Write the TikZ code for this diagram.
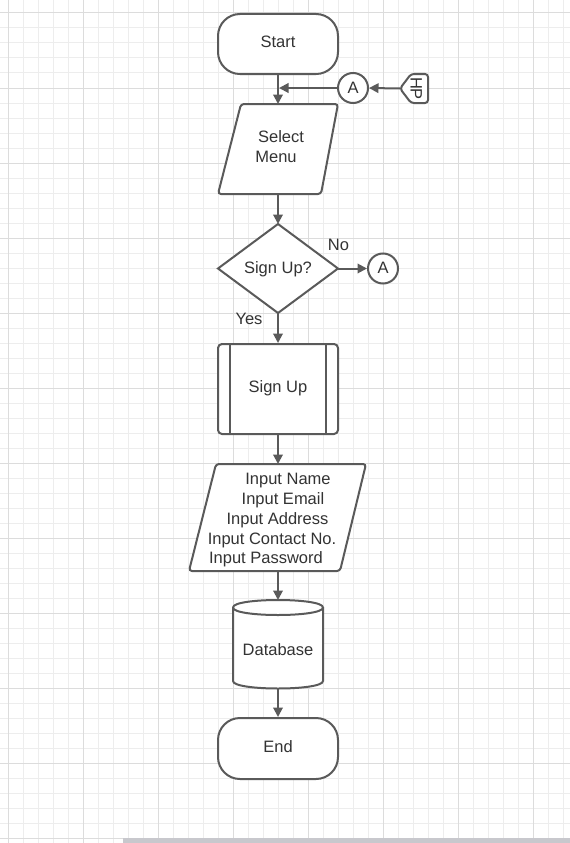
\documentclass[tikz,border=0pt]{standalone}
\usepackage{fontspec}
\setmainfont{Liberation Sans}
\usetikzlibrary{arrows.meta,shapes.geometric}
\definecolor{ln}{HTML}{5A5A5A}
\definecolor{tx}{HTML}{333333}
\definecolor{gmin}{HTML}{EDEDED}
\definecolor{gmaj}{HTML}{DCDCDC}
\definecolor{barc}{HTML}{C8C8CD}
\begin{document}
\begin{tikzpicture}[x=1pt,y=-1pt,
  shp/.style={draw=ln,line width=2pt,fill=white},
  lbl/.style={text=tx,font=\fontsize{16.5}{20}\selectfont,text height=11.8pt,text depth=0pt,inner sep=0pt},
  arr/.style={draw=ln,line width=2pt,-{Triangle[length=9.5pt,width=9.5pt]}}]
\useasboundingbox (0,0) rectangle (570,843);
\fill[white] (0,0) rectangle (570,843);
% grid
\foreach \x in {8,23,...,568} \draw[gmin,line width=1pt] (\x,0) -- (\x,843);
\foreach \y in {13,28,...,843} \draw[gmin,line width=1pt] (0,\y) -- (570,\y);
\foreach \x in {8,83,...,568} \draw[gmaj,line width=1pt] (\x,0) -- (\x,843);
\foreach \y in {13,88,...,843} \draw[gmaj,line width=1pt] (0,\y) -- (570,\y);
\fill[barc] (123,838) rectangle (570,843);

% Start
\node[shp,rounded corners=22pt,minimum width=120pt,minimum height=60pt] (start) at (278,44) {};
\node[lbl] (startT) at (278,42) {Start};

% Select Menu
\draw[shp,rounded corners=3pt] (241,104) -- (338,104) -- (321,194) -- (218,194) -- cycle;
\coordinate (selT) at (278,104);
\coordinate (selB) at (278,194);
\node[lbl] (selA) at (281,137) {Select};
\node[lbl] (selC) at (276,157) {Menu};

% connector A (top) and off-page HP
\node[shp,circle,minimum size=30pt,inner sep=0pt] (ca) at (353,88) {};
\node[lbl] (caT) at (353,88) {A};
\coordinate (j) at (279,88);
\draw[shp,rounded corners=3pt] (400,88.5) -- (411,74) -- (428,74) -- (428,103) -- (411,103) -- cycle;
\coordinate (hpT) at (400,88.5);
\node[lbl,rotate=-90] (hp) at (416.5,88.5) {HP};

% decision
\draw[shp] (278,224) -- (338,268.5) -- (278,313) -- (218,268.5) -- cycle;
\coordinate (decT) at (278,224);
\coordinate (decR) at (338,268.5);
\coordinate (decB) at (278,313);
\node[lbl] (dec) at (278,268) {Sign Up?};
\node[lbl] (no) at (338.5,245) {No};
\node[lbl] (yes) at (249,319) {Yes};
\node[shp,circle,minimum size=30pt,inner sep=0pt] (cb) at (383,268.5) {};
\node[lbl] (cbT) at (383,268) {A};

% Sign Up predefined process
\node[shp,rounded corners=4pt,minimum width=120pt,minimum height=90pt] (sub) at (278,389) {};
\draw[ln,line width=2pt] (230,344) -- (230,434);
\draw[ln,line width=2pt] (326,344) -- (326,434);
\node[lbl] (subT) at (278,387) {Sign Up};

% Input parallelogram
\draw[shp,rounded corners=3pt] (216,464) -- (366,464) -- (340,571) -- (189,571) -- cycle;
\coordinate (inpT) at (278,464);
\coordinate (inpB) at (278,571);
\node[lbl] (i1) at (288,479) {Input Name};
\node[lbl] (i2) at (283,499) {Input Email};
\node[lbl] (i3) at (277.5,519) {Input Address};
\node[lbl] (i4) at (272,539) {Input Contact No.};
\node[lbl] (i5) at (266,558) {Input Password};

% Database
\filldraw[shp] (233,607.5) -- (233,681) .. controls (233,691) and (323,691) .. (323,681) -- (323,607.5) .. controls (323,597.5) and (233,597.5) .. (233,607.5) -- cycle;
\draw[ln,line width=2pt] (233,607.5) .. controls (233,617.5) and (323,617.5) .. (323,607.5);
\coordinate (dbT) at (278,600);
\coordinate (dbB) at (278,688.5);
\node[lbl] (db) at (278,650) {Database};

% End
\node[shp,rounded corners=22pt,minimum width=120pt,minimum height=61pt] (endn) at (278,748.5) {};
\node[lbl] (endT) at (278,747) {End};

% connectors
\draw[arr] (start.south) -- (selT);
\draw[arr] (ca.west) -- (j);
\draw[arr] (hpT) -- (ca.east);
\draw[arr] (selB) -- (decT);
\draw[arr] (decR) -- (cb.west);
\draw[arr] (decB) -- (sub.north);
\draw[arr] (sub.south) -- (inpT);
\draw[arr] (inpB) -- (dbT);
\draw[arr] (dbB) -- (endn.north);
\end{tikzpicture}
\end{document}
